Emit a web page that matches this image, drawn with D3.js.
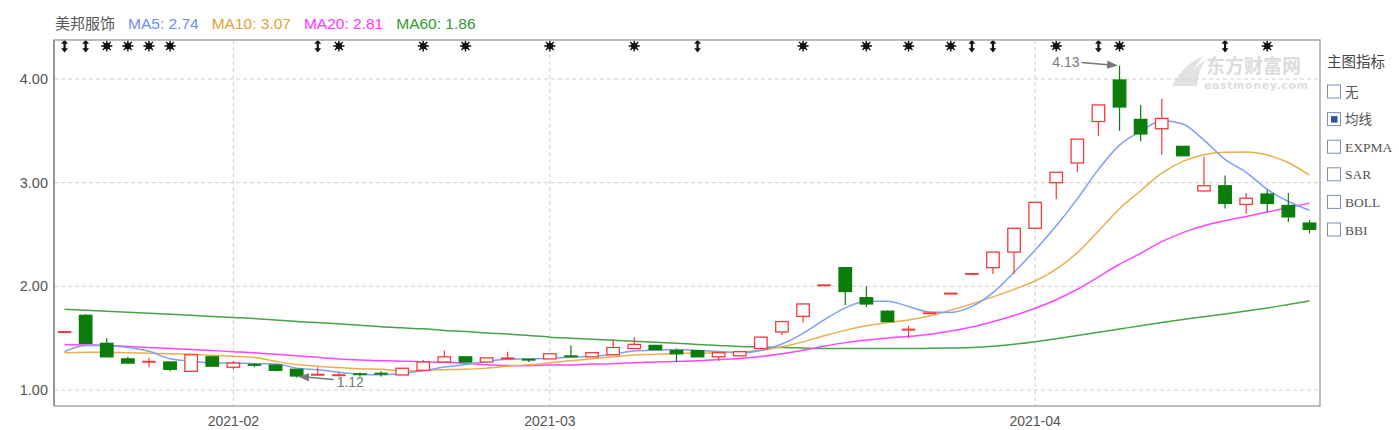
<!DOCTYPE html>
<html><head><meta charset="utf-8">
<script src="https://cdn.jsdelivr.net/npm/d3@7"></script>
<style>body{margin:0;background:#fff;}svg{display:block}</style>
</head><body><svg id="c" width="1399" height="430"></svg>
<script>
const dates = ["2021-01-20","2021-01-21","2021-01-22","2021-01-25","2021-01-26","2021-01-27","2021-01-28","2021-01-29",
"2021-02-01","2021-02-02","2021-02-03","2021-02-04","2021-02-05","2021-02-08","2021-02-09","2021-02-10","2021-02-18","2021-02-19","2021-02-22","2021-02-23","2021-02-24","2021-02-25","2021-02-26",
"2021-03-01","2021-03-02","2021-03-03","2021-03-04","2021-03-05","2021-03-08","2021-03-09","2021-03-10","2021-03-11","2021-03-12","2021-03-15","2021-03-16","2021-03-17","2021-03-18","2021-03-19","2021-03-22","2021-03-23","2021-03-24","2021-03-25","2021-03-26","2021-03-29","2021-03-30","2021-03-31",
"2021-04-01","2021-04-02","2021-04-06","2021-04-07","2021-04-08","2021-04-09","2021-04-12","2021-04-13","2021-04-14","2021-04-15","2021-04-16","2021-04-19","2021-04-20","2021-04-21"];
const opens  = [1.56,1.72,1.45,1.30,1.27,1.27,1.18,1.32,1.22,1.245,1.24,1.20,1.145,1.14,1.155,1.16,1.145,1.19,1.27,1.32,1.27,1.30,1.295,1.30,1.33,1.32,1.34,1.40,1.43,1.38,1.38,1.32,1.33,1.40,1.56,1.71,2.01,2.18,1.89,1.76,1.58,1.74,1.93,2.12,2.18,2.33,2.56,3.00,3.19,3.59,3.99,3.61,3.52,3.35,2.92,2.97,2.79,2.89,2.78,2.61];
const highs  = [1.56,1.73,1.50,1.32,1.31,1.27,1.34,1.32,1.28,1.26,1.25,1.20,1.22,1.17,1.17,1.18,1.21,1.29,1.38,1.32,1.31,1.37,1.30,1.35,1.43,1.36,1.49,1.51,1.43,1.40,1.38,1.36,1.37,1.51,1.66,1.83,2.01,2.18,2.00,1.77,1.62,1.74,1.93,2.12,2.33,2.56,2.81,3.10,3.42,3.75,4.13,3.75,3.81,3.35,3.25,3.07,2.90,2.93,2.90,2.64];
const lows   = [1.56,1.44,1.32,1.26,1.22,1.18,1.18,1.23,1.20,1.22,1.18,1.12,1.145,1.13,1.13,1.13,1.145,1.19,1.27,1.27,1.27,1.30,1.27,1.30,1.32,1.32,1.34,1.40,1.39,1.27,1.32,1.28,1.33,1.40,1.53,1.65,2.01,1.82,1.80,1.66,1.50,1.74,1.93,2.12,2.12,2.12,2.56,2.84,3.10,3.45,3.50,3.40,3.27,3.26,2.92,2.75,2.70,2.72,2.62,2.51];
const closes = [1.56,1.45,1.32,1.26,1.275,1.20,1.34,1.23,1.26,1.24,1.19,1.135,1.15,1.145,1.15,1.155,1.21,1.27,1.32,1.27,1.31,1.31,1.29,1.35,1.32,1.36,1.41,1.44,1.39,1.35,1.32,1.36,1.37,1.51,1.66,1.83,2.01,1.95,1.83,1.66,1.585,1.74,1.93,2.12,2.33,2.56,2.81,3.10,3.42,3.75,3.73,3.47,3.62,3.26,2.97,2.80,2.85,2.80,2.67,2.55];
const ma5  = [1.37,1.43,1.43,1.41,1.373,1.301,1.279,1.261,1.261,1.254,1.252,1.211,1.195,1.171,1.153,1.146,1.161,1.185,1.221,1.245,1.276,1.296,1.300,1.306,1.316,1.326,1.346,1.376,1.384,1.390,1.382,1.372,1.358,1.382,1.444,1.546,1.676,1.792,1.856,1.856,1.806,1.752,1.748,1.806,1.940,2.136,2.350,2.584,2.844,3.128,3.362,3.494,3.598,3.566,3.410,3.224,3.100,2.936,2.818,2.734];
const ma10 = [1.36,1.365,1.365,1.36,1.355,1.35,1.345,1.335,1.325,1.314,1.277,1.245,1.228,1.216,1.204,1.199,1.186,1.190,1.196,1.199,1.211,1.229,1.243,1.264,1.281,1.301,1.321,1.338,1.345,1.353,1.354,1.359,1.367,1.383,1.417,1.464,1.524,1.575,1.619,1.650,1.676,1.714,1.770,1.831,1.898,1.971,2.051,2.166,2.325,2.534,2.749,2.922,3.091,3.205,3.269,3.293,3.297,3.267,3.192,3.072];
const ma20 = [1.44,1.435,1.43,1.42,1.41,1.40,1.39,1.38,1.37,1.36,1.345,1.33,1.315,1.30,1.29,1.283,1.277,1.272,1.267,1.258,1.244,1.237,1.235,1.240,1.242,1.250,1.254,1.264,1.271,1.276,1.283,1.294,1.305,1.323,1.349,1.383,1.423,1.457,1.482,1.502,1.515,1.537,1.569,1.607,1.658,1.718,1.788,1.871,1.972,2.092,2.213,2.318,2.431,2.518,2.584,2.632,2.674,2.717,2.759,2.803];
const ma60 = [1.78,1.77,1.76,1.75,1.74,1.73,1.72,1.71,1.70,1.69,1.675,1.66,1.65,1.64,1.625,1.61,1.60,1.59,1.575,1.565,1.55,1.54,1.525,1.51,1.50,1.49,1.48,1.47,1.46,1.45,1.44,1.43,1.42,1.415,1.41,1.405,1.40,1.40,1.40,1.40,1.40,1.402,1.405,1.41,1.422,1.442,1.466,1.495,1.525,1.556,1.588,1.62,1.65,1.68,1.707,1.734,1.762,1.791,1.825,1.86];
const yTicks = [1, 2, 3, 4];
const monthTicks = ["2021-02-01", "2021-03-01", "2021-04-01"];
const monthLabels = ["2021-02", "2021-03", "2021-04"];
const stockName = "美邦服饰";
const maNames = ["MA5", "MA10", "MA20", "MA60"];
const maLast = ["2.74", "3.07", "2.81", "1.86"];
const markerIdx  = [0,1,2,3,4,5,12,13,17,19,23,27,30,35,38,40,42,43,44,47,49,50,55,57];
const markerKind = ["a","a","s","s","s","s","a","s","s","s","s","s","a","s","s","s","s","a","a","s","a","s","a","s"];
const panelTitle = "主图指标";
const panelItems = ["无", "均线", "EXPMA", "SAR", "BOLL", "BBI"];
const panelChecked = 1;
const lowMark = {idx: 11, val: 1.12};
const highMark = {idx: 50, val: 4.13};

const maColors = ["#7f9ff5", "#e8ae4f", "#ff44ff", "#4aa24a"];
const maText = ["#6b8cf7", "#e0a035", "#ff33ff", "#2f9a2f"];
const UP = "#f23a3a", DOWN = "#0a7d0a";

const svg = d3.select("#c");
const L = 54, R = 1320, T = 40, B = 406;
const x = d3.scaleBand().domain(dates).range([L, R]).paddingInner(0.36).paddingOuter(0.18);
const y = d3.scaleLinear().domain([1, 4]).range([390, 79]);
const bw = x.bandwidth();
const cx = i => x(dates[i]) + bw / 2;

// watermark
const wm = svg.append("g");
wm.append("path").attr("d", "M1172,86 C1180,70 1192,60 1204,56 C1196,64 1190,74 1188,86 Z M1184,86 C1190,72 1198,64 1206,60 C1200,68 1198,76 1197,86 Z").attr("fill", "#e2e2e2");
wm.append("text").attr("x", 1206).attr("y", 73).text("东方财富网").attr("font-family", "Noto Sans CJK SC").attr("font-weight", "bold").attr("font-size", 19).attr("fill", "#dcdcdc");
wm.append("text").attr("x", 1204).attr("y", 89).text("eastmoney.com").attr("font-family", "DejaVu Sans").attr("font-weight", "bold").attr("font-size", 11).attr("fill", "#dedede").attr("textLength", 104);

// grid
const grid = svg.append("g");
grid.selectAll(".hg").data(yTicks).join("line")
  .attr("x1", L).attr("x2", R).attr("y1", d => y(d)).attr("y2", d => y(d))
  .attr("stroke", "#d0d0d0").attr("stroke-dasharray", "4,3");
grid.selectAll(".vg").data(monthTicks).join("line")
  .attr("x1", d => x(d) + bw / 2).attr("x2", d => x(d) + bw / 2).attr("y1", T).attr("y2", B)
  .attr("stroke", "#d0d0d0").attr("stroke-dasharray", "4,3");

// axes
const fmt = d3.format(".2f");
const ya = svg.append("g").attr("transform", `translate(${L},0)`)
  .call(d3.axisLeft(y).tickValues(yTicks).tickFormat(fmt).tickSize(0).tickPadding(6));
ya.select(".domain").remove();
ya.selectAll("text").attr("font-family", "Liberation Sans, Arial").attr("font-size", 14.5).attr("fill", "#555");
const xa = svg.append("g").attr("transform", `translate(0,${B})`)
  .call(d3.axisBottom(x).tickValues(monthTicks).tickFormat(d => monthLabels[monthTicks.indexOf(d)]).tickSize(0).tickPadding(10));
xa.select(".domain").remove();
xa.selectAll("text").attr("font-family", "Liberation Sans, Arial").attr("font-size", 14).attr("fill", "#555");

// MA lines
const mas = [ma5, ma10, ma20, ma60];
const line = d3.line().x((d, i) => cx(i)).y(d => y(d)).curve(d3.curveMonotoneX);
const lg = svg.append("g");
[3, 2, 1, 0].forEach(k => {
  lg.append("path").attr("d", line(mas[k])).attr("fill", "none").attr("stroke", maColors[k]).attr("stroke-width", 1.5);
});

// candles
const cg = svg.append("g");
dates.forEach((d, i) => {
  const o = opens[i], c = closes[i], h = highs[i], l = lows[i];
  const up = c >= o;
  const col = up ? UP : DOWN;
  const top = Math.max(o, c), bot = Math.min(o, c);
  const xc = cx(i);
  const doji = Math.abs(o - c) < 0.012;
  if (doji) {
    const yy = y((o + c) / 2);
    if (h > top) cg.append("line").attr("x1", xc).attr("x2", xc).attr("y1", y(h)).attr("y2", yy).attr("stroke", col).attr("stroke-width", 1.2);
    if (l < bot) cg.append("line").attr("x1", xc).attr("x2", xc).attr("y1", yy).attr("y2", y(l)).attr("stroke", col).attr("stroke-width", 1.2);
    cg.append("line").attr("x1", x(d)).attr("x2", x(d) + bw).attr("y1", yy).attr("y2", yy).attr("stroke", col).attr("stroke-width", 2);
    return;
  }
  if (h > top) cg.append("line").attr("x1", xc).attr("x2", xc).attr("y1", y(h)).attr("y2", y(top)).attr("stroke", col).attr("stroke-width", 1.2);
  if (l < bot) cg.append("line").attr("x1", xc).attr("x2", xc).attr("y1", y(bot)).attr("y2", y(l)).attr("stroke", col).attr("stroke-width", 1.2);
  cg.append("rect").attr("x", x(d) + 0.5).attr("y", y(top)).attr("width", bw - 1).attr("height", Math.max(1, y(bot) - y(top)))
    .attr("fill", up ? "#fff" : DOWN).attr("stroke", col).attr("stroke-width", 1.3);
});

// markers
const mg = svg.append("g");
markerIdx.forEach((i, k) => {
  const g = mg.append("g").attr("transform", `translate(${cx(i)},46)`);
  if (markerKind[k] === "a") {
    g.append("rect").attr("x", -1.1).attr("y", -3).attr("width", 2.2).attr("height", 6).attr("fill", "#111");
    g.append("path").attr("d", "M-3.4,-2.3 L0,-6.5 L3.4,-2.3 Z M-3.4,2.3 L0,6.5 L3.4,2.3 Z").attr("fill", "#111");
  } else {
    const rays = d3.range(8).map(j => {
      const a = j * Math.PI / 4;
      return `M0,0 L${(5.6 * Math.cos(a)).toFixed(2)},${(5.6 * Math.sin(a)).toFixed(2)}`;
    }).join(" ");
    g.append("path").attr("d", rays).attr("stroke", "#111").attr("stroke-width", 1.4);
    g.append("circle").attr("r", 3.2).attr("fill", "#111");
  }
});

// frame
svg.append("rect").attr("x", L).attr("y", T).attr("width", R - L).attr("height", B - T)
  .attr("fill", "none").attr("stroke", "#a8a8a8").attr("stroke-width", 1.5);
svg.append("line").attr("x1", L).attr("x2", L).attr("y1", T).attr("y2", B).attr("stroke", "#8c8c8c").attr("stroke-width", 1.5);

// annotations
const defs = svg.append("defs");
defs.append("marker").attr("id", "ah").attr("viewBox", "0 0 10 10").attr("refX", 9).attr("refY", 5)
  .attr("markerWidth", 7).attr("markerHeight", 7).attr("orient", "auto-start-reverse")
  .append("path").attr("d", "M0,1 L10,5 L0,9 Z").attr("fill", "#777");
const lx = cx(lowMark.idx), ly = y(lowMark.val);
svg.append("line").attr("x1", lx + 37).attr("y1", ly + 2).attr("x2", lx + 3).attr("y2", ly - 1)
  .attr("stroke", "#777").attr("stroke-width", 1.5).attr("marker-end", "url(#ah)");
svg.append("text").attr("x", lx + 40).attr("y", ly + 9).text(String(lowMark.val))
  .attr("font-family", "Liberation Sans, Arial").attr("font-size", 14).attr("fill", "#777");
const hx = cx(highMark.idx), hy = y(highMark.val);
svg.append("line").attr("x1", hx - 38).attr("y1", hy - 3).attr("x2", hx - 3).attr("y2", hy)
  .attr("stroke", "#777").attr("stroke-width", 1.5).attr("marker-end", "url(#ah)");
svg.append("text").attr("x", hx - 40).attr("y", hy + 1).attr("text-anchor", "end").text(String(highMark.val))
  .attr("font-family", "Liberation Sans, Arial").attr("font-size", 14).attr("fill", "#777");

// title legend
let tx = 55;
const t0 = svg.append("text").attr("x", tx).attr("y", 29).text(stockName)
  .attr("font-family", "Noto Sans CJK SC").attr("font-size", 15).attr("fill", "#555");
tx += t0.node().getComputedTextLength() + 13;
maNames.forEach((n, k) => {
  const t = svg.append("text").attr("x", tx).attr("y", 29).text(`${n}: ${maLast[k]}`)
    .attr("font-family", "Liberation Sans, Arial").attr("font-size", 15.5).attr("fill", maText[k]);
  tx += t.node().getComputedTextLength() + 13;
});

// right panel
svg.append("text").attr("x", 1327).attr("y", 67).text(panelTitle)
  .attr("font-family", "Noto Sans CJK SC").attr("font-size", 14.5).attr("fill", "#444");
panelItems.forEach((p, i) => {
  const by = 85 + i * 27.6;
  svg.append("rect").attr("x", 1327.5).attr("y", by).attr("width", 13).attr("height", 13)
    .attr("fill", "#fff").attr("stroke", "#7d8fb8").attr("stroke-width", 1);
  if (i === panelChecked) svg.append("rect").attr("x", 1331).attr("y", by + 3.5).attr("width", 6.5).attr("height", 6.5).attr("fill", "#2b55a0");
  svg.append("text").attr("x", 1345).attr("y", by + 11.5).text(p)
    .attr("font-family", /[A-Z]/.test(p) ? "Liberation Serif, serif" : "Noto Sans CJK SC")
    .attr("font-size", 13.5).attr("fill", "#555");
});
</script></body></html>
